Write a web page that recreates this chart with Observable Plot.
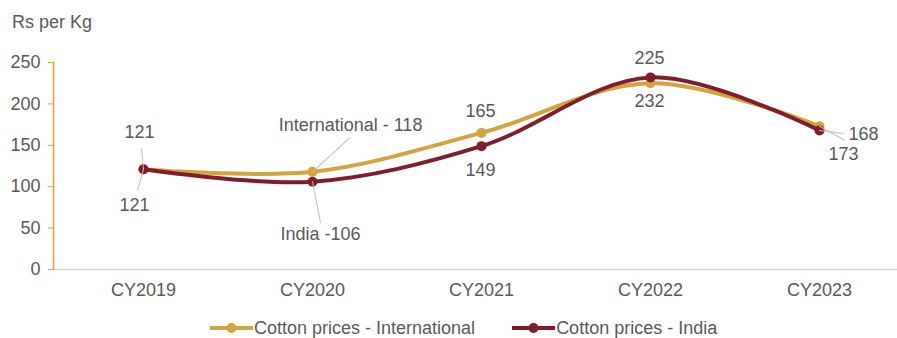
<!DOCTYPE html>
<html>
<head>
<meta charset="utf-8">
<script src="https://cdn.jsdelivr.net/npm/d3@7"></script>
<script src="https://cdn.jsdelivr.net/npm/@observablehq/plot@0.6"></script>
<style>
  html, body { margin: 0; padding: 0; background: #fff; }
  body { width: 897px; height: 338px; position: relative; overflow: hidden; font-family: "Liberation Sans", Arial, sans-serif; color: #595959; }
  #title { position: absolute; left: 12px; top: 11px; font-size: 18px; line-height: 22px; }
  #chart { position: absolute; left: 0; top: 40px; }
  #legend { position: absolute; left: 210px; top: 317px; display: flex; align-items: center; font-size: 18px; line-height: 22px; }
  .item { display: flex; align-items: center; margin-right: 37px; }
  .item svg { display: block; margin-right: 1px; }
</style>
</head>
<body>
<div id="title">Rs per Kg</div>
<div id="chart"></div>
<div id="legend"></div>
<script>
const years = ["CY2019", "CY2020", "CY2021", "CY2022", "CY2023"];
const international = [121, 118, 165, 225, 173];
const india = [121, 106, 149, 232, 168];
const yTicks = [0, 50, 100, 150, 200, 250];
const seriesNames = ["Cotton prices - International", "Cotton prices - India"];

const GOLD = "#D4A23F";
const MAROON = "#7E1D2B";
const TEXT = "#595959";
const FONT = "Liberation Sans, Arial, sans-serif";

// label annotations: series, year index, text, pixel offset of label, leader end offset (or null)
const labelSeries = ["int", "ind", "int", "ind", "int", "ind", "int", "ind", "ind", "int"];
const labelYear   = [0, 0, 1, 1, 2, 2, 3, 3, 4, 4];
const labelText   = ["121", "121", "International - 118", "India -106", "165", "149", "225", "232", "168", "173"];
const labelDx     = [-4, -9, 38, 8, -1, -1, -1, -1, 44, 24];
const labelDy     = [-37, 36, -47, 53, -22, 24, -25, 24, 4, 28];
const leaderDx    = [-2, -6, 37, 8, null, null, null, null, 24, 25];
const leaderDy    = [-21, 21, -34, 41, null, null, null, null, 3, 14];

const rows = [];
years.forEach((y, i) => {
  rows.push({year: y, value: international[i], series: seriesNames[0]});
});
years.forEach((y, i) => {
  rows.push({year: y, value: india[i], series: seriesNames[1]});
});
const intRows = rows.filter(d => d.series === seriesNames[0]);
const indRows = rows.filter(d => d.series === seriesNames[1]);

const leaderShape = {
  draw(context, l) {
    context.moveTo(0, 0);
    context.lineTo(0, -l);
  }
};

const annotationMarks = [];
labelText.forEach((t, k) => {
  const src = labelSeries[k] === "int" ? international : india;
  const datum = [{year: years[labelYear[k]], value: src[labelYear[k]], text: t}];
  if (leaderDx[k] !== null) {
    const lx = leaderDx[k], ly = leaderDy[k];
    const len = Math.hypot(lx, ly);
    const rot = Math.atan2(lx, -ly) * 180 / Math.PI;
    annotationMarks.push(Plot.vector(datum, {
      x: "year", y: "value", length: len, rotate: rot, anchor: "start",
      shape: leaderShape, stroke: "#BFBFBF", strokeWidth: 1
    }));
  }
  annotationMarks.push(Plot.text(datum, {
    x: "year", y: "value", text: "text", dx: labelDx[k], dy: labelDy[k],
    fill: TEXT, fontSize: 18, fontFamily: FONT
  }));
});

const chart = Plot.plot({
  width: 897,
  height: 270,
  marginLeft: 53,
  marginRight: 0,
  marginTop: 22,
  marginBottom: 41,
  style: {fontFamily: FONT, background: "transparent", overflow: "visible"},
  x: {type: "point", domain: years, padding: 0.49, align: 0.536, label: null},
  y: {domain: [0, 250], label: null},
  marks: [
    Plot.ruleY([0], {stroke: "#D9D9D9", strokeWidth: 1.5}),
    Plot.frame({anchor: "left", stroke: GOLD, strokeWidth: 1.5}),
    Plot.axisY({ticks: yTicks, tickSize: 5, tickPadding: 8, stroke: GOLD, fill: TEXT, fontSize: 18, label: null}),
    Plot.axisX({tickSize: 0, tickPadding: 14, fill: TEXT, fontSize: 18, label: null}),
    Plot.line(intRows, {x: "year", y: "value", stroke: GOLD, strokeWidth: 4, curve: "catmull-rom"}),
    Plot.dot(intRows, {x: "year", y: "value", fill: GOLD, r: 5}),
    Plot.line(indRows, {x: "year", y: "value", stroke: MAROON, strokeWidth: 4, curve: "catmull-rom"}),
    Plot.dot(indRows, {x: "year", y: "value", fill: MAROON, r: 5}),
    ...annotationMarks
  ]
});
document.getElementById("chart").appendChild(chart);

// legend
const legend = document.getElementById("legend");
[[seriesNames[0], GOLD], [seriesNames[1], MAROON]].forEach(([name, color]) => {
  const item = document.createElement("div");
  item.className = "item";
  const ns = "http://www.w3.org/2000/svg";
  const sw = document.createElementNS(ns, "svg");
  sw.setAttribute("width", 43);
  sw.setAttribute("height", 12);
  const ln = document.createElementNS(ns, "line");
  ln.setAttribute("x1", 0); ln.setAttribute("x2", 43);
  ln.setAttribute("y1", 6); ln.setAttribute("y2", 6);
  ln.setAttribute("stroke", color); ln.setAttribute("stroke-width", 4);
  const c = document.createElementNS(ns, "circle");
  c.setAttribute("cx", 21.5); c.setAttribute("cy", 6); c.setAttribute("r", 5);
  c.setAttribute("fill", color);
  sw.appendChild(ln); sw.appendChild(c);
  const span = document.createElement("span");
  span.textContent = name;
  item.appendChild(sw); item.appendChild(span);
  legend.appendChild(item);
});
</script>
</body>
</html>
